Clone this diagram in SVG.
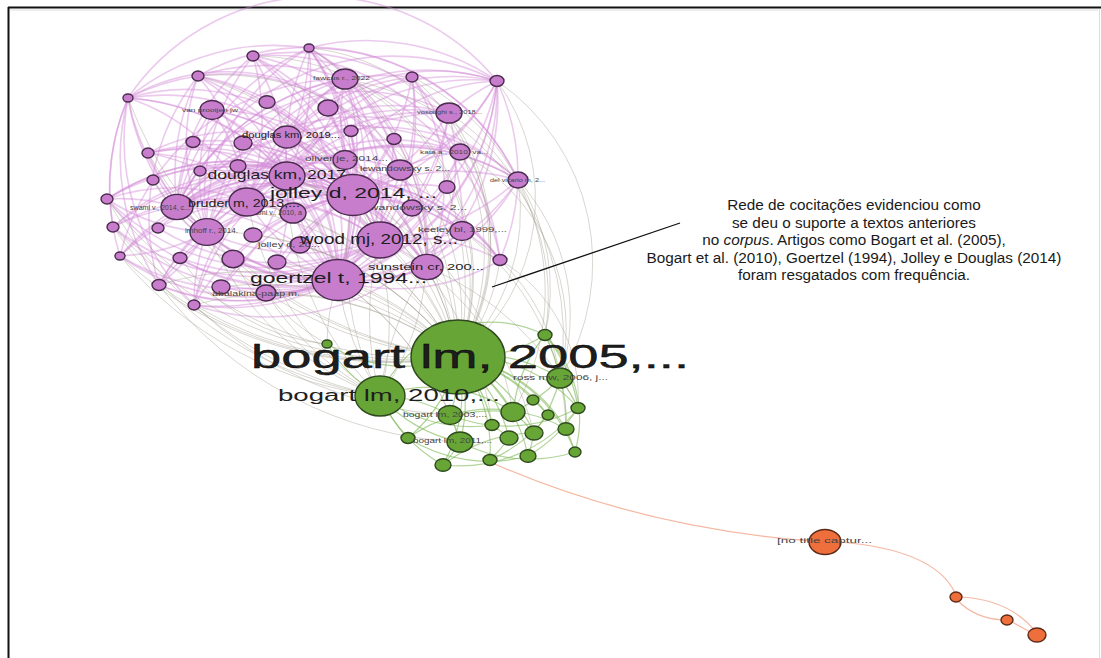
<svg xmlns="http://www.w3.org/2000/svg" width="1101" height="658" viewBox="0 0 1101 658">
<style>
.pe{fill:none;stroke:#d48bd8;stroke-width:1.6;stroke-opacity:.46}
.ge{fill:none;stroke:#a39d90;stroke-width:1;stroke-opacity:.42}
.ne{fill:none;stroke:#7db853;stroke-width:1.2;stroke-opacity:.6}
.oe{fill:none;stroke:#f2a58a;stroke-width:1.2;stroke-opacity:.8}
.pn{fill:#c77dcc;stroke:#4a2a4e;stroke-width:1.4}
.gn{fill:#67a636;stroke:#2f4a1e;stroke-width:1.4}
.on{fill:#ee6f3c;stroke:#5a2a18;stroke-width:1.4}
.lb{font-family:"Liberation Sans",Arial,sans-serif;fill:#1e1e1e;text-anchor:middle}
.sl{font-family:"Liberation Sans",Arial,sans-serif;fill:#444;text-anchor:middle}
.an{font-family:"Liberation Sans",Arial,sans-serif;font-size:15.3px;fill:#1a1a1a;text-anchor:middle}
</style>
<rect width="1101" height="658" fill="#fff"/>
<g id="frame">
<line x1="8" y1="7.5" x2="1101" y2="7.5" stroke="#111" stroke-width="2"/>
<line x1="8.5" y1="7" x2="8.5" y2="658" stroke="#111" stroke-width="2"/>
<line x1="10" y1="10" x2="1098" y2="10" stroke="#ddd" stroke-width="1"/>
<line x1="1099.5" y1="9" x2="1099.5" y2="658" stroke="#ddd" stroke-width="1"/>
</g>
<g id="connectors">
<g id="purple-edges">
<path class="pe" d="M309 48A230 230 0 0 1 353 195"/>
<path class="pe" d="M309 48A230 230 0 0 1 287 176"/>
<path class="pe" d="M309 48A230 230 0 0 1 338 280"/>
<path class="pe" d="M309 48A230 230 0 0 1 380 240"/>
<path class="pe" d="M309 48A230 230 0 0 1 247 202"/>
<path class="pe" d="M309 48A230 230 0 0 0 177 207"/>
<path class="pe" d="M309 48A230 230 0 0 1 427 267"/>
<path class="pe" d="M309 48A230 230 0 0 1 497 81"/>
<path class="pe" d="M128 98A230 230 0 0 1 309 48"/>
<path class="pe" d="M309 48A230 230 0 0 0 287 137"/>
<path class="pe" d="M309 48A230 230 0 0 1 518 180"/>
<path class="pe" d="M253 56A230 230 0 0 1 353 195"/>
<path class="pe" d="M253 56A230 230 0 0 1 287 176"/>
<path class="pe" d="M253 56A230 230 0 0 1 338 280"/>
<path class="pe" d="M253 56A230 230 0 0 1 247 202"/>
<path class="pe" d="M253 56A230 230 0 0 0 207 232"/>
<path class="pe" d="M253 56A230 230 0 0 1 380 240"/>
<path class="pe" d="M253 56A230 230 0 0 1 449 113"/>
<path class="pe" d="M198 76A230 230 0 0 1 353 195"/>
<path class="pe" d="M198 76A230 230 0 0 1 287 176"/>
<path class="pe" d="M198 76A230 230 0 0 1 338 280"/>
<path class="pe" d="M198 76A230 230 0 0 0 177 207"/>
<path class="pe" d="M198 76A230 230 0 0 1 380 240"/>
<path class="pe" d="M198 76A230 230 0 0 1 345 79"/>
<path class="pe" d="M128 98A230 230 0 0 1 198 76"/>
<path class="pe" d="M128 98A230 230 0 0 1 353 195"/>
<path class="pe" d="M128 98A230 230 0 0 0 177 207"/>
<path class="pe" d="M128 98A230 230 0 0 1 287 176"/>
<path class="pe" d="M128 98A230 230 0 0 1 338 280"/>
<path class="pe" d="M128 98A230 230 0 0 0 207 232"/>
<path class="pe" d="M128 98A230 230 0 0 0 113 227"/>
<path class="pe" d="M128 98A230 230 0 0 0 120 256"/>
<path class="pe" d="M128 98A230 230 0 0 0 159 285"/>
<path class="pe" d="M497 81A230 230 0 0 1 353 195"/>
<path class="pe" d="M497 81A230 230 0 0 1 338 280"/>
<path class="pe" d="M497 81A230 230 0 0 1 380 240"/>
<path class="pe" d="M497 81A230 230 0 0 0 287 176"/>
<path class="pe" d="M497 81A230 230 0 0 1 427 267"/>
<path class="pe" d="M497 81A230 230 0 0 1 518 180"/>
<path class="pe" d="M497 81A230 230 0 0 0 449 113"/>
<path class="pe" d="M497 81A230 230 0 0 0 247 202"/>
<path class="pe" d="M497 81A230 230 0 0 1 266 293"/>
<path class="pe" d="M497 81A230 230 0 0 1 194 305"/>
<path class="pe" d="M412 77A230 230 0 0 1 353 195"/>
<path class="pe" d="M412 77A230 230 0 0 0 287 176"/>
<path class="pe" d="M412 77A230 230 0 0 1 338 280"/>
<path class="pe" d="M412 77A230 230 0 0 1 380 240"/>
<path class="pe" d="M412 77A230 230 0 0 0 177 207"/>
<path class="pe" d="M345 79A230 230 0 0 1 353 195"/>
<path class="pe" d="M345 79A230 230 0 0 1 338 280"/>
<path class="pe" d="M345 79A230 230 0 0 0 247 202"/>
<path class="pe" d="M345 79A230 230 0 0 0 177 207"/>
<path class="pe" d="M345 79A230 230 0 0 1 380 240"/>
<path class="pe" d="M345 79A230 230 0 0 1 427 267"/>
<path class="pe" d="M345 79A230 230 0 0 0 120 256"/>
<path class="pe" d="M518 180A230 230 0 0 0 353 195"/>
<path class="pe" d="M518 180A230 230 0 0 1 338 280"/>
<path class="pe" d="M518 180A230 230 0 0 1 380 240"/>
<path class="pe" d="M518 180A230 230 0 0 0 287 176"/>
<path class="pe" d="M518 180A230 230 0 0 0 247 202"/>
<path class="pe" d="M518 180A230 230 0 0 1 427 267"/>
<path class="pe" d="M518 180A230 230 0 0 1 500 260"/>
<path class="pe" d="M518 180A230 230 0 0 0 177 207"/>
<path class="pe" d="M449 113A230 230 0 0 1 353 195"/>
<path class="pe" d="M449 113A230 230 0 0 1 338 280"/>
<path class="pe" d="M449 113A230 230 0 0 0 287 176"/>
<path class="pe" d="M449 113A230 230 0 0 0 247 202"/>
<path class="pe" d="M449 113A230 230 0 0 1 380 240"/>
<path class="pe" d="M449 113A230 230 0 0 0 207 232"/>
<path class="pe" d="M460 152A230 230 0 0 0 353 195"/>
<path class="pe" d="M460 152A230 230 0 0 1 338 280"/>
<path class="pe" d="M460 152A230 230 0 0 0 287 176"/>
<path class="pe" d="M460 152A230 230 0 0 0 177 207"/>
<path class="pe" d="M212 110A230 230 0 0 1 353 195"/>
<path class="pe" d="M212 110A230 230 0 0 1 338 280"/>
<path class="pe" d="M212 110A230 230 0 0 1 380 240"/>
<path class="pe" d="M212 110A230 230 0 0 1 427 267"/>
<path class="pe" d="M212 110A230 230 0 0 1 287 176"/>
<path class="pe" d="M148 153A230 230 0 0 1 353 195"/>
<path class="pe" d="M148 153A230 230 0 0 1 338 280"/>
<path class="pe" d="M148 153A230 230 0 0 1 380 240"/>
<path class="pe" d="M107 199A230 230 0 0 1 353 195"/>
<path class="pe" d="M107 199A230 230 0 0 0 338 280"/>
<path class="pe" d="M107 199A230 230 0 0 1 287 176"/>
<path class="pe" d="M107 199A230 230 0 0 0 380 240"/>
<path class="pe" d="M107 199A230 230 0 0 1 427 267"/>
<path class="pe" d="M113 227A230 230 0 0 1 353 195"/>
<path class="pe" d="M113 227A230 230 0 0 0 338 280"/>
<path class="pe" d="M113 227A230 230 0 0 0 380 240"/>
<path class="pe" d="M120 256A230 230 0 0 1 353 195"/>
<path class="pe" d="M120 256A230 230 0 0 0 338 280"/>
<path class="pe" d="M120 256A230 230 0 0 1 287 176"/>
<path class="pe" d="M120 256A230 230 0 0 0 380 240"/>
<path class="pe" d="M159 285A230 230 0 0 1 353 195"/>
<path class="pe" d="M159 285A230 230 0 0 0 338 280"/>
<path class="pe" d="M159 285A230 230 0 0 1 287 176"/>
<path class="pe" d="M194 305A230 230 0 0 1 353 195"/>
<path class="pe" d="M194 305A230 230 0 0 0 338 280"/>
<path class="pe" d="M194 305A230 230 0 0 1 287 176"/>
<path class="pe" d="M194 305A230 230 0 0 0 380 240"/>
<path class="pe" d="M500 260A230 230 0 0 0 353 195"/>
<path class="pe" d="M500 260A230 230 0 0 0 287 176"/>
<path class="pe" d="M500 260A230 230 0 0 0 177 207"/>
<path class="pe" d="M462 231A230 230 0 0 0 287 176"/>
<path class="pe" d="M462 231A230 230 0 0 0 177 207"/>
<path class="pe" d="M462 231A230 230 0 0 1 338 280"/>
<path class="pe" d="M353 195A230 230 0 0 1 287 176"/>
<path class="pe" d="M353 195A230 230 0 0 1 338 280"/>
<path class="pe" d="M353 195A230 230 0 0 1 380 240"/>
<path class="pe" d="M353 195A230 230 0 0 0 247 202"/>
<path class="pe" d="M353 195A230 230 0 0 0 177 207"/>
<path class="pe" d="M287 176A230 230 0 0 0 338 280"/>
<path class="pe" d="M287 176A230 230 0 0 1 380 240"/>
<path class="pe" d="M287 176A230 230 0 0 0 177 207"/>
<path class="pe" d="M247 202A230 230 0 0 0 338 280"/>
<path class="pe" d="M177 207A230 230 0 0 0 338 280"/>
<path class="pe" d="M177 207A230 230 0 0 1 380 240"/>
<path class="pe" d="M207 232A230 230 0 0 1 353 195"/>
<path class="pe" d="M207 232A230 230 0 0 0 380 240"/>
<path class="pe" d="M207 232A230 230 0 0 1 287 176"/>
<path class="pe" d="M427 267A230 230 0 0 0 353 195"/>
<path class="pe" d="M427 267A230 230 0 0 0 287 176"/>
<path class="pe" d="M427 267A230 230 0 0 1 177 207"/>
<path class="pe" d="M287 137A230 230 0 0 1 338 280"/>
<path class="pe" d="M287 137A230 230 0 0 1 380 240"/>
<path class="pe" d="M287 137A230 230 0 0 0 177 207"/>
<path class="pe" d="M400 170A230 230 0 0 0 177 207"/>
<path class="pe" d="M400 170A230 230 0 0 1 338 280"/>
<path class="pe" d="M345 160A230 230 0 0 0 177 207"/>
<path class="pe" d="M345 160A230 230 0 0 1 338 280"/>
<path class="pe" d="M293 213A230 230 0 0 0 177 207"/>
<path class="pe" d="M300 245A230 230 0 0 0 177 207"/>
<path class="pe" d="M253 235A230 230 0 0 1 353 195"/>
<path class="pe" d="M233 259A230 230 0 0 1 353 195"/>
<path class="pe" d="M277 262A230 230 0 0 1 353 195"/>
<path class="pe" d="M221 287A230 230 0 0 1 353 195"/>
<path class="pe" d="M266 293A230 230 0 0 1 353 195"/>
<path class="pe" d="M180 258A230 230 0 0 1 353 195"/>
<path class="pe" d="M153 180A230 230 0 0 1 353 195"/>
<path class="pe" d="M200 171A230 230 0 0 1 380 240"/>
<path class="pe" d="M238 166A230 230 0 0 1 427 267"/>
<path class="pe" d="M243 143A230 230 0 0 1 338 280"/>
<path class="pe" d="M193 142A230 230 0 0 1 338 280"/>
<path class="pe" d="M267 102A230 230 0 0 1 338 280"/>
<path class="pe" d="M328 108A230 230 0 0 1 338 280"/>
<path class="pe" d="M351 131A230 230 0 0 1 338 280"/>
<path class="pe" d="M394 139A230 230 0 0 1 338 280"/>
<path class="pe" d="M447 187A230 230 0 0 1 338 280"/>
<path class="pe" d="M412 208A230 230 0 0 0 177 207"/>
<path class="pe" d="M158 228A230 230 0 0 0 380 240"/>
<path class="pe" d="M180 258A230 230 0 0 0 380 240"/>
<path class="pe" d="M221 287A230 230 0 0 0 287 176"/>
<path class="pe" d="M266 293A230 230 0 0 0 287 176"/>
<path class="pe" d="M233 259A230 230 0 0 0 427 267"/>
<path class="pe" d="M128 98A230 230 0 0 1 497 81"/>
<path class="pe" d="M198 76A230 230 0 0 1 518 180"/>
<path class="pe" d="M253 56A230 230 0 0 1 500 260"/>
<path class="pe" d="M412 77A230 230 0 0 1 462 231"/>
<path class="pe" d="M345 79A230 230 0 0 1 500 260"/>
<path class="pe" d="M128 98A230 230 0 0 0 194 305"/>
<path class="pe" d="M198 76A230 230 0 0 0 159 285"/>
<path class="pe" d="M345 79A200 200 0 0 1 287 176"/>
<path class="pe" d="M345 79A200 200 0 0 0 207 232"/>
<path class="pe" d="M345 79A200 200 0 0 1 400 170"/>
<path class="pe" d="M345 79A200 200 0 0 0 345 160"/>
<path class="pe" d="M345 79A200 200 0 0 0 287 137"/>
<path class="pe" d="M412 77A200 200 0 0 0 247 202"/>
<path class="pe" d="M412 77A200 200 0 0 1 427 267"/>
<path class="pe" d="M497 81A200 200 0 0 1 400 170"/>
<path class="pe" d="M497 81A200 200 0 0 0 345 160"/>
<path class="pe" d="M497 81A200 200 0 0 0 287 137"/>
<path class="pe" d="M497 81A230 230 0 0 0 207 232"/>
<path class="pe" d="M497 81A230 230 0 0 0 177 207"/>
<path class="pe" d="M449 113A200 200 0 0 0 177 207"/>
<path class="pe" d="M449 113A200 200 0 0 1 427 267"/>
<path class="pe" d="M449 113A200 200 0 0 0 287 137"/>
<path class="pe" d="M212 110A200 200 0 0 1 247 202"/>
<path class="pe" d="M212 110A200 200 0 0 0 177 207"/>
<path class="pe" d="M212 110A200 200 0 0 0 207 232"/>
<path class="pe" d="M148 153A200 200 0 0 1 247 202"/>
<path class="pe" d="M148 153A200 200 0 0 1 287 176"/>
<path class="pe" d="M148 153A200 200 0 0 0 207 232"/>
<path class="pe" d="M148 153A200 200 0 0 1 427 267"/>
<path class="pe" d="M107 199A200 200 0 0 1 247 202"/>
<path class="pe" d="M107 199A200 200 0 0 0 207 232"/>
<path class="pe" d="M107 199A200 200 0 0 1 177 207"/>
<path class="pe" d="M113 227A200 200 0 0 1 247 202"/>
<path class="pe" d="M113 227A200 200 0 0 1 287 176"/>
<path class="pe" d="M113 227A200 200 0 0 1 177 207"/>
<path class="pe" d="M120 256A200 200 0 0 1 247 202"/>
<path class="pe" d="M120 256A200 200 0 0 0 207 232"/>
<path class="pe" d="M159 285A200 200 0 0 1 247 202"/>
<path class="pe" d="M159 285A200 200 0 0 0 207 232"/>
<path class="pe" d="M159 285A200 200 0 0 0 380 240"/>
<path class="pe" d="M194 305A200 200 0 0 1 247 202"/>
<path class="pe" d="M194 305A200 200 0 0 1 207 232"/>
<path class="pe" d="M500 260A200 200 0 0 0 247 202"/>
<path class="pe" d="M500 260A200 200 0 0 0 380 240"/>
<path class="pe" d="M500 260A200 200 0 0 1 338 280"/>
<path class="pe" d="M462 231A200 200 0 0 0 353 195"/>
<path class="pe" d="M462 231A200 200 0 0 1 380 240"/>
<path class="pe" d="M518 180A200 200 0 0 0 207 232"/>
<path class="pe" d="M460 152A200 200 0 0 0 247 202"/>
<path class="pe" d="M460 152A200 200 0 0 1 380 240"/>
<path class="pe" d="M309 48A200 200 0 0 0 207 232"/>
<path class="pe" d="M309 48A200 200 0 0 1 400 170"/>
<path class="pe" d="M309 48A200 200 0 0 1 345 160"/>
<path class="pe" d="M253 56A200 200 0 0 0 177 207"/>
<path class="pe" d="M253 56A200 200 0 0 1 400 170"/>
<path class="pe" d="M198 76A200 200 0 0 1 247 202"/>
<path class="pe" d="M198 76A200 200 0 0 0 207 232"/>
<path class="pe" d="M198 76A200 200 0 0 1 427 267"/>
<path class="pe" d="M128 98A200 200 0 0 1 380 240"/>
<path class="pe" d="M128 98A200 200 0 0 1 247 202"/>
<path class="pe" d="M128 98A200 200 0 0 1 427 267"/>
<path class="pe" d="M267 102A200 200 0 0 1 353 195"/>
<path class="pe" d="M328 108A200 200 0 0 1 353 195"/>
<path class="pe" d="M243 143A200 200 0 0 1 353 195"/>
<path class="pe" d="M193 142A200 200 0 0 1 353 195"/>
<path class="pe" d="M351 131A200 200 0 0 1 353 195"/>
<path class="pe" d="M394 139A200 200 0 0 1 353 195"/>
<path class="pe" d="M238 166A200 200 0 0 1 353 195"/>
<path class="pe" d="M200 171A200 200 0 0 1 353 195"/>
<path class="pe" d="M153 180A200 200 0 0 0 338 280"/>
<path class="pe" d="M447 187A200 200 0 0 0 353 195"/>
<path class="pe" d="M412 208A200 200 0 0 0 353 195"/>
<path class="pe" d="M158 228A200 200 0 0 1 353 195"/>
<path class="pe" d="M253 235A200 200 0 0 0 338 280"/>
<path class="pe" d="M180 258A200 200 0 0 0 338 280"/>
<path class="pe" d="M233 259A200 200 0 0 0 338 280"/>
<path class="pe" d="M277 262A200 200 0 0 0 338 280"/>
<path class="pe" d="M221 287A200 200 0 0 0 338 280"/>
<path class="pe" d="M266 293A200 200 0 0 0 338 280"/>
<path class="pe" d="M293 213A200 200 0 0 0 338 280"/>
<path class="pe" d="M300 245A200 200 0 0 0 338 280"/>
<path class="pe" d="M345 160A200 200 0 0 1 353 195"/>
<path class="pe" d="M400 170A200 200 0 0 1 353 195"/>
<path class="pe" d="M287 137A200 200 0 0 1 353 195"/>
<path class="pe" d="M287 137A200 200 0 0 0 287 176"/>
<path class="pe" d="M293 213A200 200 0 0 1 353 195"/>
<path class="pe" d="M300 245A200 200 0 0 1 353 195"/>
<path class="pe" d="M427 267A200 200 0 0 0 380 240"/>
<path class="pe" d="M427 267A200 200 0 0 1 338 280"/>
<path class="pe" d="M207 232A200 200 0 0 0 338 280"/>
<path class="pe" d="M247 202A200 200 0 0 1 380 240"/>
<path class="pe" d="M177 207A200 200 0 0 1 247 202"/>
</g>
<g id="gray-edges">
<path class="ge" d="M309 48A200 200 0 0 1 458 357"/>
<path class="ge" d="M253 56A220 220 0 0 1 458 357"/>
<path class="ge" d="M198 76A240 240 0 0 1 458 357"/>
<path class="ge" d="M345 79A220 220 0 0 1 458 357"/>
<path class="ge" d="M412 77A220 220 0 0 1 458 357"/>
<path class="ge" d="M497 81A200 200 0 0 1 458 357"/>
<path class="ge" d="M497 81A220 220 0 0 1 560 378"/>
<path class="ge" d="M449 113A220 220 0 0 1 458 357"/>
<path class="ge" d="M518 180A200 200 0 0 1 458 357"/>
<path class="ge" d="M518 180A200 200 0 0 1 560 378"/>
<path class="ge" d="M518 180A200 200 0 0 1 545 335"/>
<path class="ge" d="M460 152A220 220 0 0 1 458 357"/>
<path class="ge" d="M500 260A200 200 0 0 1 458 357"/>
<path class="ge" d="M500 260A200 200 0 0 1 560 378"/>
<path class="ge" d="M462 231A200 200 0 0 1 458 357"/>
<path class="ge" d="M427 267A300 300 0 0 1 458 357"/>
<path class="ge" d="M427 267A300 300 0 0 0 380 396"/>
<path class="ge" d="M380 240A300 300 0 0 1 458 357"/>
<path class="ge" d="M380 240A300 300 0 0 0 380 396"/>
<path class="ge" d="M353 195A300 300 0 0 1 458 357"/>
<path class="ge" d="M353 195A300 300 0 0 0 380 396"/>
<path class="ge" d="M338 280A300 300 0 0 1 458 357"/>
<path class="ge" d="M338 280A300 300 0 0 0 380 396"/>
<path class="ge" d="M338 280A300 300 0 0 1 450 415"/>
<path class="ge" d="M338 280A300 300 0 0 1 460 442"/>
<path class="ge" d="M287 176A300 300 0 0 1 458 357"/>
<path class="ge" d="M287 176A300 300 0 0 0 380 396"/>
<path class="ge" d="M247 202A300 300 0 0 1 458 357"/>
<path class="ge" d="M247 202A300 300 0 0 0 380 396"/>
<path class="ge" d="M177 207A300 300 0 0 1 458 357"/>
<path class="ge" d="M207 232A300 300 0 0 1 458 357"/>
<path class="ge" d="M207 232A300 300 0 0 0 380 396"/>
<path class="ge" d="M277 262A300 300 0 0 1 458 357"/>
<path class="ge" d="M266 293A300 300 0 0 1 458 357"/>
<path class="ge" d="M266 293A300 300 0 0 0 380 396"/>
<path class="ge" d="M221 287A300 300 0 0 1 458 357"/>
<path class="ge" d="M194 305A300 300 0 0 1 458 357"/>
<path class="ge" d="M159 285A300 300 0 0 1 458 357"/>
<path class="ge" d="M233 259A300 300 0 0 0 380 396"/>
<path class="ge" d="M300 245A300 300 0 0 1 458 357"/>
<path class="ge" d="M253 235A300 300 0 0 1 458 357"/>
<path class="ge" d="M293 213A300 300 0 0 1 458 357"/>
<path class="ge" d="M400 170A300 300 0 0 1 458 357"/>
<path class="ge" d="M345 160A300 300 0 0 1 458 357"/>
<path class="ge" d="M287 137A300 300 0 0 1 458 357"/>
<path class="ge" d="M412 208A300 300 0 0 1 458 357"/>
<path class="ge" d="M447 187A300 300 0 0 1 458 357"/>
<path class="ge" d="M198 76A260 260 0 0 1 380 396"/>
<path class="ge" d="M309 48A240 240 0 0 1 380 396"/>
<path class="ge" d="M458 357A400 400 0 0 1 128 98"/>
<path class="ge" d="M458 357A400 400 0 0 1 107 199"/>
<path class="ge" d="M458 357A400 400 0 0 1 113 227"/>
<path class="ge" d="M458 357A400 400 0 0 1 120 256"/>
<path class="ge" d="M458 357A400 400 0 0 1 159 285"/>
<path class="ge" d="M458 357A400 400 0 0 1 194 305"/>
<path class="ge" d="M458 357A400 400 0 0 1 148 153"/>
<path class="ge" d="M458 357A400 400 0 0 1 153 180"/>
<path class="ge" d="M380 396A400 400 0 0 1 120 256"/>
<path class="ge" d="M380 396A400 400 0 0 1 113 227"/>
<path class="ge" d="M380 396A400 400 0 0 1 107 199"/>
<path class="ge" d="M450 415A400 400 0 0 1 194 305"/>
<path class="ge" d="M460 442A400 400 0 0 1 159 285"/>
<path class="ge" d="M327 344A200 200 0 0 1 180 258"/>
<path class="ge" d="M338 280A200 200 0 0 0 327 344"/>
<path class="ge" d="M266 293A200 200 0 0 0 327 344"/>
<path class="ge" d="M353 195A300 300 0 0 1 513 412"/>
<path class="ge" d="M380 240A300 300 0 0 1 534 433"/>
<path class="ge" d="M427 267A300 300 0 0 1 578 408"/>
<path class="ge" d="M462 231A250 250 0 0 1 566 429"/>
<path class="ge" d="M287 176A300 300 0 0 1 492 425"/>
<path class="ge" d="M449 113A220 220 0 0 1 545 335"/>
<path class="ge" d="M460 152A200 200 0 0 1 560 378"/>
<path class="ge" d="M412 77A240 240 0 0 1 513 412"/>
<path class="ge" d="M345 79A260 260 0 0 1 560 378"/>
<path class="ge" d="M500 260A160 160 0 0 1 578 408"/>
</g>
<g id="green-edges">
<path class="ne" d="M458 357A150 150 0 0 1 327 344"/>
<path class="ne" d="M458 357A150 150 0 0 0 545 335"/>
<path class="ne" d="M458 357A150 150 0 0 1 560 378"/>
<path class="ne" d="M458 357A150 150 0 0 1 450 415"/>
<path class="ne" d="M458 357A150 150 0 0 1 408 438"/>
<path class="ne" d="M458 357A150 150 0 0 1 460 442"/>
<path class="ne" d="M458 357A150 150 0 0 1 443 465"/>
<path class="ne" d="M458 357A150 150 0 0 1 533 400"/>
<path class="ne" d="M458 357A150 150 0 0 1 513 412"/>
<path class="ne" d="M458 357A150 150 0 0 1 548 415"/>
<path class="ne" d="M458 357A150 150 0 0 1 578 408"/>
<path class="ne" d="M458 357A150 150 0 0 1 492 425"/>
<path class="ne" d="M458 357A150 150 0 0 1 534 433"/>
<path class="ne" d="M458 357A150 150 0 0 1 566 429"/>
<path class="ne" d="M458 357A150 150 0 0 1 509 438"/>
<path class="ne" d="M458 357A150 150 0 0 1 575 452"/>
<path class="ne" d="M458 357A150 150 0 0 1 528 456"/>
<path class="ne" d="M458 357A150 150 0 0 1 490 460"/>
<path class="ne" d="M380 396A150 150 0 0 1 450 415"/>
<path class="ne" d="M380 396A150 150 0 0 0 408 438"/>
<path class="ne" d="M380 396A150 150 0 0 0 460 442"/>
<path class="ne" d="M380 396A150 150 0 0 0 443 465"/>
<path class="ne" d="M380 396A150 150 0 0 0 492 425"/>
<path class="ne" d="M380 396A150 150 0 0 1 513 412"/>
<path class="ne" d="M560 378A150 150 0 0 1 513 412"/>
<path class="ne" d="M560 378A150 150 0 0 1 578 408"/>
<path class="ne" d="M560 378A150 150 0 0 1 566 429"/>
<path class="ne" d="M560 378A150 150 0 0 1 534 433"/>
<path class="ne" d="M450 415A150 150 0 0 1 460 442"/>
<path class="ne" d="M460 442A150 150 0 0 1 443 465"/>
<path class="ne" d="M513 412A150 150 0 0 1 534 433"/>
<path class="ne" d="M492 425A150 150 0 0 1 509 438"/>
<path class="ne" d="M534 433A150 150 0 0 1 528 456"/>
<path class="ne" d="M566 429A150 150 0 0 1 575 452"/>
<path class="ne" d="M509 438A150 150 0 0 1 490 460"/>
<path class="ne" d="M533 400A150 150 0 0 1 548 415"/>
<path class="ne" d="M545 335A150 150 0 0 1 560 378"/>
<path class="ne" d="M545 335A150 150 0 0 1 578 408"/>
<path class="ne" d="M545 335A120 120 0 0 1 575 452"/>
<path class="ne" d="M545 335A150 150 0 0 0 513 412"/>
<path class="ne" d="M327 344A150 150 0 0 0 380 396"/>
<path class="ne" d="M450 415A150 150 0 0 1 566 429"/>
<path class="ne" d="M460 442A150 150 0 0 0 575 452"/>
<path class="ne" d="M408 438A150 150 0 0 0 528 456"/>
<path class="ne" d="M443 465A150 150 0 0 0 578 408"/>
<path class="ne" d="M490 460A150 150 0 0 0 548 415"/>
<path class="ne" d="M380 396A120 120 0 0 1 545 335"/>
<path class="ne" d="M408 438A150 150 0 0 1 513 412"/>
<path class="ne" d="M443 465A150 150 0 0 1 534 433"/>
<path class="ne" d="M450 415A150 150 0 0 0 578 408"/>
<path class="ne" d="M528 456A150 150 0 0 0 578 408"/>
</g>
<g id="orange-edges">
<path class="oe" d="M490 462Q640 528 812 541"/>
<path class="oe" d="M840 542Q935 550 955 593"/>
<path class="oe" d="M962 597Q1010 600 1036 632"/>
<path class="oe" d="M958 601Q975 618 1002 620"/>
<path class="oe" d="M1012 622L1032 633"/>
</g>
<line id="annotation-line" x1="492" y1="287" x2="680" y2="223" stroke="#111" stroke-width="1.3"/>
</g>
<g id="nodes">
<g id="n-p1"><ellipse class="pn" cx="309" cy="48" rx="5" ry="4"/></g>
<g id="n-p2"><ellipse class="pn" cx="253" cy="56" rx="6" ry="5"/></g>
<g id="n-p3"><ellipse class="pn" cx="198" cy="76" rx="6" ry="5"/></g>
<g id="n-p4"><ellipse class="pn" cx="128" cy="98" rx="5" ry="4"/></g>
<g id="n-p6"><ellipse class="pn" cx="412" cy="77" rx="6" ry="5"/></g>
<g id="n-p7"><ellipse class="pn" cx="497" cy="81" rx="7" ry="5.5"/></g>
<g id="n-p9"><ellipse class="pn" cx="267" cy="102" rx="8" ry="6.3"/></g>
<g id="n-p10"><ellipse class="pn" cx="328" cy="108" rx="10" ry="8"/></g>
<g id="n-p12"><ellipse class="pn" cx="193" cy="142" rx="7" ry="5.5"/></g>
<g id="n-p13"><ellipse class="pn" cx="243" cy="143" rx="9" ry="7"/></g>
<g id="n-p14"><ellipse class="pn" cx="148" cy="153" rx="6" ry="5"/></g>
<g id="n-p16"><ellipse class="pn" cx="351" cy="131" rx="7" ry="5.5"/></g>
<g id="n-p17"><ellipse class="pn" cx="394" cy="139" rx="7" ry="5.5"/></g>
<g id="n-p19"><ellipse class="pn" cx="238" cy="166" rx="8" ry="6.3"/></g>
<g id="n-p20"><ellipse class="pn" cx="200" cy="171" rx="6" ry="5"/></g>
<g id="n-p24"><ellipse class="pn" cx="153" cy="180" rx="6" ry="5"/></g>
<g id="n-p25"><ellipse class="pn" cx="107" cy="199" rx="6" ry="5"/></g>
<g id="n-p30"><ellipse class="pn" cx="447" cy="187" rx="8" ry="6.3"/></g>
<g id="n-p33"><ellipse class="pn" cx="113" cy="227" rx="6" ry="5"/></g>
<g id="n-p34"><ellipse class="pn" cx="158" cy="228" rx="6" ry="5"/></g>
<g id="n-p36"><ellipse class="pn" cx="253" cy="235" rx="9" ry="7"/></g>
<g id="n-p40"><ellipse class="pn" cx="120" cy="256" rx="5" ry="4"/></g>
<g id="n-p41"><ellipse class="pn" cx="180" cy="258" rx="7" ry="5.5"/></g>
<g id="n-p42"><ellipse class="pn" cx="233" cy="259" rx="11" ry="8.7"/></g>
<g id="n-p43"><ellipse class="pn" cx="277" cy="262" rx="9" ry="7"/></g>
<g id="n-p45"><ellipse class="pn" cx="500" cy="260" rx="7" ry="5.5"/></g>
<g id="n-p46"><ellipse class="pn" cx="159" cy="285" rx="7" ry="5.5"/></g>
<g id="n-p47"><ellipse class="pn" cx="221" cy="287" rx="9" ry="7"/></g>
<g id="n-p49"><ellipse class="pn" cx="194" cy="305" rx="6" ry="5"/></g>
<g id="n-fawcus"><ellipse class="pn" cx="345" cy="79" rx="13" ry="10"/><text class="sl" x="341.5" y="80" font-size="5.5" textLength="57" lengthAdjust="spacingAndGlyphs">fawcus r., 2022</text></g>
<g id="n-vanprooijen"><ellipse class="pn" cx="212" cy="110" rx="12" ry="9.5"/><text class="sl" x="210" y="112" font-size="5.5" textLength="56" lengthAdjust="spacingAndGlyphs">van prooijen jw</text></g>
<g id="n-vosoughi"><ellipse class="pn" cx="449" cy="113" rx="13" ry="10"/><text class="sl" x="449.5" y="114" font-size="5.5" textLength="65" lengthAdjust="spacingAndGlyphs">vosoughi s., 2018...</text></g>
<g id="n-kata"><ellipse class="pn" cx="460" cy="152" rx="10" ry="8"/><text class="sl" x="454" y="154" font-size="5.5" textLength="68" lengthAdjust="spacingAndGlyphs">kata a., 2010, va...</text></g>
<g id="n-delvicario"><ellipse class="pn" cx="518" cy="180" rx="10" ry="8"/><text class="sl" x="517.5" y="182" font-size="5" textLength="55" lengthAdjust="spacingAndGlyphs">del vicario m, 2...</text></g>
<g id="n-douglas2019"><ellipse class="pn" cx="287" cy="137" rx="14" ry="11"/><text class="lb" x="291" y="138" font-size="8.5" textLength="98" lengthAdjust="spacingAndGlyphs">douglas km, 2019...</text></g>
<g id="n-oliver"><ellipse class="pn" cx="345" cy="160" rx="12" ry="9.5"/><text class="sl" x="346.5" y="161" font-size="7" textLength="83" lengthAdjust="spacingAndGlyphs">oliver je, 2014...</text></g>
<g id="n-lewandowsky1"><ellipse class="pn" cx="400" cy="170" rx="13" ry="10"/><text class="sl" x="405" y="171" font-size="7.5" textLength="90" lengthAdjust="spacingAndGlyphs">lewandowsky s. 2...</text></g>
<g id="n-lewandowsky2"><ellipse class="pn" cx="412" cy="208" rx="10" ry="8"/><text class="sl" x="413.5" y="210" font-size="7.5" textLength="107" lengthAdjust="spacingAndGlyphs">lewandowsky s. 2...</text></g>
<g id="n-keeley"><ellipse class="pn" cx="462" cy="231" rx="12" ry="9.5"/><text class="sl" x="462.5" y="232" font-size="7.5" textLength="89" lengthAdjust="spacingAndGlyphs">keeley bl, 1999,...</text></g>
<g id="n-swami2010"><ellipse class="pn" cx="293" cy="213" rx="13" ry="10"/><text class="sl" x="274.5" y="215" font-size="7" textLength="55" lengthAdjust="spacingAndGlyphs">swami v., 2010, a</text></g>
<g id="n-jolley20"><ellipse class="pn" cx="300" cy="245" rx="10" ry="8"/><text class="sl" x="289" y="247" font-size="6.5" textLength="62" lengthAdjust="spacingAndGlyphs">jolley d, 20...</text></g>
<g id="n-abalakina"><ellipse class="pn" cx="266" cy="293" rx="10" ry="8"/><text class="sl" x="256" y="296" font-size="7" textLength="88" lengthAdjust="spacingAndGlyphs">abalakina-paap m.</text></g>
<g id="n-swami2014"><ellipse class="pn" cx="177" cy="207" rx="16" ry="12.6"/><text class="sl" x="160" y="210" font-size="7" textLength="60" lengthAdjust="spacingAndGlyphs">swami v., 2014, c...</text></g>
<g id="n-imhoff"><ellipse class="pn" cx="207" cy="232" rx="17" ry="13.4"/><text class="sl" x="211.5" y="233" font-size="7" textLength="53" lengthAdjust="spacingAndGlyphs">imhoff r., 2014.</text></g>
<g id="n-sunstein"><ellipse class="pn" cx="427" cy="267" rx="16" ry="12.6"/><text class="lb" x="426" y="270" font-size="9.5" textLength="116" lengthAdjust="spacingAndGlyphs">sunstein cr, 200...</text></g>
<g id="n-bruder"><ellipse class="pn" cx="247" cy="202" rx="18" ry="14"/><text class="lb" x="244" y="207" font-size="10" textLength="112" lengthAdjust="spacingAndGlyphs">bruder m, 2013,...</text></g>
<g id="n-douglas2017"><ellipse class="pn" cx="287" cy="176" rx="18" ry="14"/><text class="lb" x="284" y="179" font-size="13" textLength="153" lengthAdjust="spacingAndGlyphs">douglas km, 2017...</text></g>
<g id="n-wood"><ellipse class="pn" cx="380" cy="240" rx="23" ry="18"/><text class="lb" x="379" y="244" font-size="14" textLength="158" lengthAdjust="spacingAndGlyphs">wood mj, 2012, s...</text></g>
<g id="n-jolley2014"><ellipse class="pn" cx="353" cy="195" rx="26" ry="20.5"/><text class="lb" x="353.5" y="198" font-size="14" textLength="167" lengthAdjust="spacingAndGlyphs">jolley d, 2014, ...</text></g>
<g id="n-goertzel"><ellipse class="pn" cx="338" cy="280" rx="26" ry="20.5"/><text class="lb" x="338.5" y="283" font-size="15" textLength="177" lengthAdjust="spacingAndGlyphs">goertzel t, 1994...</text></g>
<g id="n-g3"><ellipse class="gn" cx="327" cy="344" rx="5" ry="4"/></g>
<g id="n-g4"><ellipse class="gn" cx="545" cy="335" rx="7" ry="5.5"/></g>
<g id="n-g7"><ellipse class="gn" cx="408" cy="438" rx="7" ry="5.5"/></g>
<g id="n-g9"><ellipse class="gn" cx="443" cy="465" rx="8" ry="6.3"/></g>
<g id="n-g10"><ellipse class="gn" cx="533" cy="400" rx="6" ry="5"/></g>
<g id="n-g11"><ellipse class="gn" cx="513" cy="412" rx="12" ry="9.5"/></g>
<g id="n-g12"><ellipse class="gn" cx="548" cy="415" rx="6" ry="5"/></g>
<g id="n-g13"><ellipse class="gn" cx="578" cy="408" rx="7" ry="5.5"/></g>
<g id="n-g14"><ellipse class="gn" cx="492" cy="425" rx="7" ry="5.5"/></g>
<g id="n-g15"><ellipse class="gn" cx="534" cy="433" rx="9" ry="7"/></g>
<g id="n-g16"><ellipse class="gn" cx="566" cy="429" rx="8" ry="6.3"/></g>
<g id="n-g17"><ellipse class="gn" cx="509" cy="438" rx="9" ry="7"/></g>
<g id="n-g18"><ellipse class="gn" cx="575" cy="452" rx="6" ry="5"/></g>
<g id="n-g19"><ellipse class="gn" cx="528" cy="456" rx="8" ry="6.3"/></g>
<g id="n-g20"><ellipse class="gn" cx="490" cy="460" rx="7" ry="5.5"/></g>
<g id="n-ross"><ellipse class="gn" cx="560" cy="378" rx="13" ry="10"/><text class="sl" x="560.5" y="380" font-size="7.5" textLength="95" lengthAdjust="spacingAndGlyphs">ross mw, 2006, j...</text></g>
<g id="n-bogart2003"><ellipse class="gn" cx="450" cy="415" rx="12" ry="9.5"/><text class="sl" x="445" y="417" font-size="7.5" textLength="84" lengthAdjust="spacingAndGlyphs">bogart lm, 2003,...</text></g>
<g id="n-bogart2011"><ellipse class="gn" cx="460" cy="442" rx="13" ry="10"/><text class="sl" x="452.5" y="443" font-size="7.5" textLength="79" lengthAdjust="spacingAndGlyphs">bogart lm, 2011,...</text></g>
<g id="n-bogart2005"><ellipse class="gn" cx="458" cy="357" rx="47" ry="37"/><text class="lb" x="470" y="368" font-size="33" textLength="438" lengthAdjust="spacingAndGlyphs" fill="#000" stroke="#000" stroke-width=".4">bogart lm, 2005,...</text></g>
<g id="n-bogart2010"><ellipse class="gn" cx="380" cy="396" rx="25" ry="20"/><text class="lb" x="389" y="401" font-size="16" textLength="222" lengthAdjust="spacingAndGlyphs">bogart lm, 2010,...</text></g>
<g id="n-o2"><ellipse class="on" cx="956" cy="597" rx="6" ry="5"/></g>
<g id="n-o3"><ellipse class="on" cx="1007" cy="620" rx="6" ry="5"/></g>
<g id="n-o4"><ellipse class="on" cx="1037" cy="635" rx="9" ry="7"/></g>
<g id="n-notitle"><ellipse class="on" cx="825" cy="542" rx="16" ry="12.5"/><text class="sl" x="824.5" y="543" font-size="8" textLength="95" lengthAdjust="spacingAndGlyphs" fill="#333">[no title captur...</text></g>
</g>
<g id="annotation">
<text class="an" x="854" y="210">Rede de cocitações evidenciou como</text>
<text class="an" x="854" y="227.5">se deu o suporte a textos anteriores</text>
<text class="an" x="854" y="245">no <tspan font-style="italic">corpus</tspan>. Artigos como Bogart et al. (2005),</text>
<text class="an" x="854" y="262.5">Bogart et al. (2010), Goertzel (1994), Jolley e Douglas (2014)</text>
<text class="an" x="854" y="280">foram resgatados com frequência.</text>
</g>
</svg>
